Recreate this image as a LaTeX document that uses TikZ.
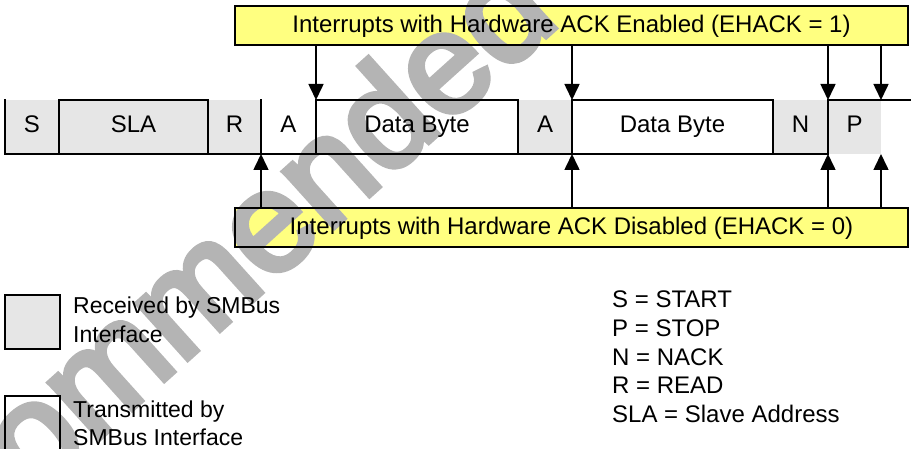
\documentclass[tikz,border=0pt]{standalone}
\usepackage{fontspec}
\setmainfont{Liberation Sans}
\newfontfamily\wmfont[FakeBold=4]{Liberation Sans}
\usetikzlibrary{arrows.meta}
\pgfdeclarelayer{bg}
\pgfdeclarelayer{wm}
\pgfsetlayers{bg,wm,main}
\definecolor{cellgray}{RGB}{230,230,230}
\definecolor{boxyellow}{RGB}{255,255,128}
\definecolor{wmgray}{RGB}{180,180,180}
\begin{document}
\begin{tikzpicture}[x=1pt,y=-1pt,
  ln/.style={line width=1.6pt,line cap=rect},
  cell/.style={inner sep=0pt,outer sep=0pt,minimum height=54pt,text height=17pt,text depth=5pt,font=\fontsize{24}{28}\selectfont},
  ybox/.style={draw,line width=1.6pt,inner sep=0pt,outer sep=0pt,minimum width=673pt,minimum height=39pt,text height=17pt,text depth=2pt,font=\fontsize{24}{28}\selectfont},
  arr/.style={line width=1.6pt,-{Triangle[width=15pt,length=16pt]}},
  legbox/.style={draw,line width=1.6pt,inner sep=0pt,outer sep=0pt,minimum width=55pt,minimum height=54pt},
  legtxt/.style={inner sep=0pt,anchor=base west,font=\fontsize{23}{28}\selectfont},
  keytxt/.style={inner sep=0pt,anchor=base west,font=\fontsize{24}{28}\selectfont},
  wmtext/.style={inner sep=0pt,text=wmgray,font=\wmfont\fontsize{142}{142}\selectfont}
]
\useasboundingbox (0,0) rectangle (911,449);
% cells
\node[cell,minimum width=54pt] (S) at (32,127) {S};
\node[cell,minimum width=149pt] (SLA) at (133.5,127) {SLA};
\node[cell,minimum width=53pt] (R) at (234.5,127) {R};
\node[cell,minimum width=55pt] (A1) at (288.5,127) {A};
\node[cell,minimum width=202pt] (D1) at (417,127) {Data Byte};
\node[cell,minimum width=54pt] (A2) at (545,127) {A};
\node[cell,minimum width=201pt] (D2) at (672.5,127) {Data Byte};
\node[cell,minimum width=55pt] (N) at (800.5,127) {N};
\node[cell,minimum width=53pt] (P) at (854.5,127) {P};
\coordinate (rend) at (910,100);
% yellow boxes
\node[ybox] (top) at (571.5,25.5) {Interrupts with Hardware ACK Enabled (EHACK = 1)};
\node[ybox] (bot) at (571.5,227.5) {Interrupts with Hardware ACK Disabled (EHACK = 0)};
% legend
\node[legbox] (lg1) at (32.5,322) {};
\node[legbox,minimum height=60pt] (lg2) at (32.5,426) {};
\node[legtxt] (l1a) at (73,313) {Received by SMBus};
\node[legtxt] (l1b) at (73,342) {Interface};
\node[legtxt] (l2a) at (73,417) {Transmitted by};
\node[legtxt] (l2b) at (73,445) {SMBus Interface};
\node[keytxt] (k1) at (612,308) {S = START};
\node[keytxt] (k2) at (612,336.5) {P = STOP};
\node[keytxt] (k3) at (612,365) {N = NACK};
\node[keytxt] (k4) at (612,393.5) {R = READ};
\node[keytxt] (k5) at (612,422) {SLA = Slave Address};
% fills
\begin{pgfonlayer}{bg}
\fill[cellgray] (S.north west) rectangle (R.south east);
\fill[cellgray] (A2.north west) rectangle (A2.south east);
\fill[cellgray] (N.north west) rectangle (P.south east);
\fill[boxyellow] (top.north west) rectangle (top.south east);
\fill[boxyellow] (bot.north west) rectangle (bot.south east);
\fill[cellgray] (lg1.north west) rectangle (lg1.south east);
\end{pgfonlayer}
% watermark
\begin{pgfonlayer}{wm}
\node[wmtext,rotate=42,anchor=base east] (wm) at (562,22) {Recommended};
\end{pgfonlayer}
% row lines
\draw[ln] (S.south west) -- (P.south west);
\draw[ln] (SLA.north west) -- (SLA.north east);
\draw[ln] (D1.north west) -- (D1.north east);
\draw[ln] (D2.north west) -- (D2.north east);
\draw[ln] (P.north west) -- (rend);
\foreach \n in {S,SLA,R,A1,D1,A2,D2,N,P}
  \draw[ln] (\n.north west) -- (\n.south west);
% arrows
\draw[arr] (D1.north west |- top.south) -- (D1.north west);
\draw[arr] (D2.north west |- top.south) -- (D2.north west);
\draw[arr] (P.north west |- top.south) -- (P.north west);
\draw[arr] (P.north east |- top.south) -- (P.north east);
\draw[arr] (A1.south west |- bot.north) -- (A1.south west);
\draw[arr] (D2.south west |- bot.north) -- (D2.south west);
\draw[arr] (P.south west |- bot.north) -- (P.south west);
\draw[arr] (P.south east |- bot.north) -- (P.south east);
\end{tikzpicture}
\end{document}
